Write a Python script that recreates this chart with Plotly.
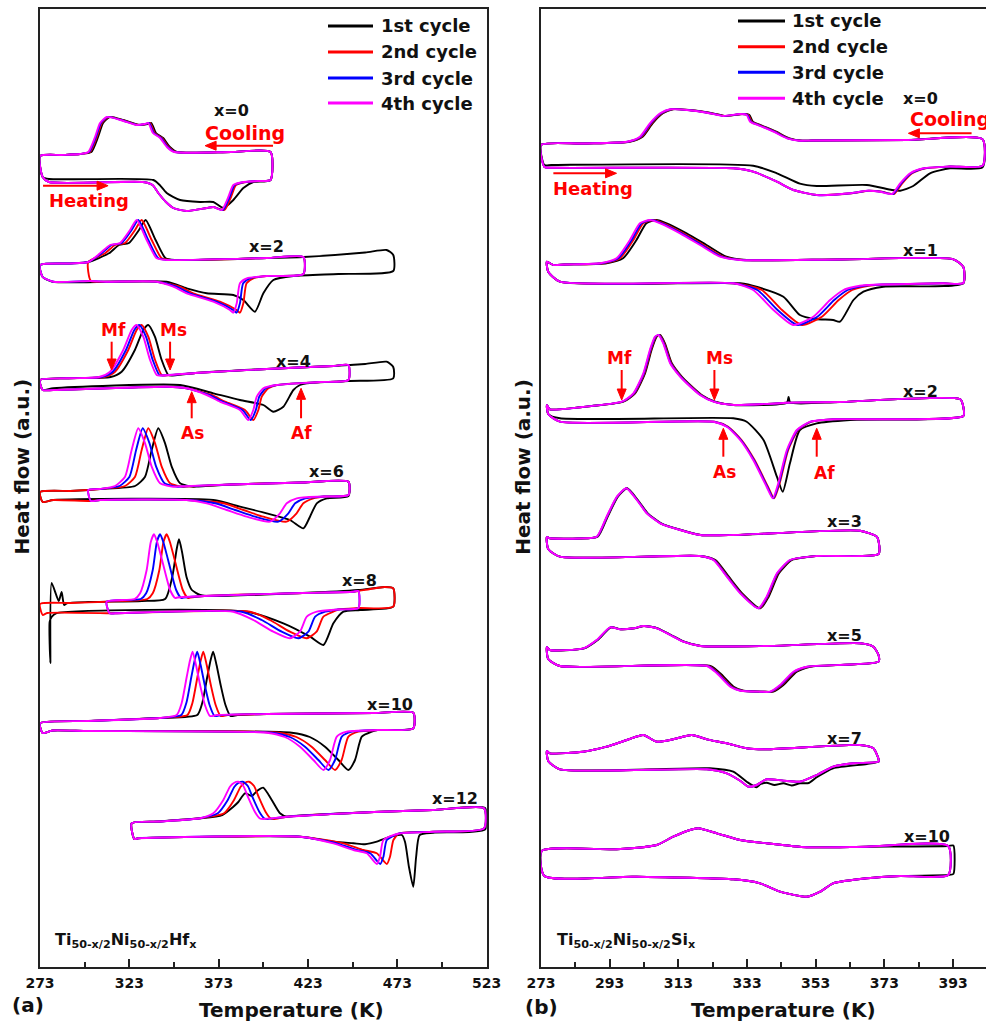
import plotly.graph_objects as go

# ---------------- DATA ----------------
CYCLE_NAMES = ["1st cycle", "2nd cycle", "3rd cycle", "4th cycle"]
CYCLE_COLORS = ["#000000", "#FF0000", "#0000FF", "#FF00FF"]

HF_X_RANGE = [273, 523]
SI_X_RANGE = [273, 402.6]
HF_TICK0, HF_DTICK, HF_MINOR = 273, 50, 25
SI_TICK0, SI_DTICK, SI_MINOR = 273, 20, 10
Y_RANGE = [0, 958]

# ---- Ti-Ni-Hf (panel a); heat flow in a.u. (stacked) ----
HF0_COOL_T = [402, 380, 348, 344, 340.2, 336.2, 333.6, 331.5, 327, 318, 310.3, 306.6, 303.8, 300, 295.4, 285, 273]
HF0_COOL_Y = [815, 815, 815, 820, 829, 834, 844, 843, 842, 847, 850, 844, 830, 815, 813, 812, 811]
HF0_HEAT_T = [274.5, 278, 330.6, 336, 339.2, 343.5, 347.6, 355.1, 366.3, 370, 374.7, 378.4, 381.2, 386.8, 395, 402]
HF0_HEAT_Y = [790, 785, 785, 782, 774, 765, 759, 756, 759, 760, 757, 770, 782, 785, 786, 787]
HF0_HEAT1_T = [274.5, 278, 336.4, 340, 343.9, 351.4, 362.6, 370, 375.6, 381.2, 386.8, 392.4, 402]
HF0_HEAT1_Y = [790, 788, 787, 782, 774, 767, 765, 765, 759, 767, 779, 785, 787]
HF0_COOL_WIN, HF0_COOL_SHIFT = (297, 349), [1.7, 1.0, 0.5, 0]
HF0_HEAT_WIN, HF0_HEAT_SHIFT = (372, 392), [0, 1.5, 0.7, 0]
HF0_TMIN, HF0_TMAX = [273, 273, 273, 273], [402, 402, 402, 402]

HF2_COOL_T = [470.7, 467, 455, 420.4, 400, 344, 338.3, 332.7, 327.1, 323.4, 317.8, 312.2, 306.6, 300, 290, 273]
HF2_COOL_Y = [712, 717, 714.5, 710, 709, 707, 708.7, 727, 747, 737, 724, 722, 713.7, 705, 703.5, 702]
HF2_HEAT_T = [274.5, 280.4, 301.5, 310, 338.3, 347.6, 355.1, 370, 379.3, 381.2, 383.1, 384.9, 388.7, 399.9, 420.4, 440, 470.7]
HF2_HEAT_Y = [690, 685.3, 686, 685.3, 685.3, 680.3, 673.7, 665.3, 657, 654.3, 663.7, 683.7, 688.7, 691, 693, 694, 695]
HF2_HEAT1_T = [274.5, 280, 343.9, 355.1, 366.3, 381.2, 386.8, 393.3, 398, 403.6, 415, 440, 470.7]
HF2_HEAT1_Y = [690, 685.3, 685.3, 678.7, 673.7, 672, 667, 655.3, 673.7, 687, 691, 693, 696]
HF2_COOL_WIN, HF2_COOL_SHIFT = (303, 345), [5, 2.8, 0.9, 0]
HF2_HEAT_WIN, HF2_HEAT_SHIFT = (340, 392), [0, 3.7, 1.8, 0]
HF2_TMIN, HF2_TMAX = [273, 300, 273, 273], [470.7, 420.4, 420.4, 420.4]

HF4_COOL_T = [470.7, 467, 455, 445.6, 437.2, 400, 360, 340, 338.3, 334.6, 330.8, 327.1, 324.3, 319.6, 312.2, 306, 288, 273]
HF4_COOL_Y = [600, 605.3, 603, 602, 601, 598, 594, 591.5, 592, 607, 630.3, 642, 637, 617, 595.3, 590, 588.7, 587]
HF4_HEAT_T = [274.5, 280.4, 343.9, 355.1, 366.3, 373.7, 384.9, 389.6, 392.4, 394.3, 398, 405.5, 430, 445.6, 470.7]
HF4_HEAT_Y = [577, 577, 580.3, 578.7, 572, 565.3, 557, 547, 557, 570.3, 578.7, 582, 585, 587, 588.7]
HF4_HEAT1_T = [274.5, 280.4, 351.4, 370, 384.9, 398, 403.6, 409.2, 414.8, 418.5, 422.3, 445.6, 470.7]
HF4_HEAT1_Y = [577, 578.7, 582, 573.7, 567, 562, 555.3, 560.3, 577, 582, 583.7, 586, 588.7]
HF4_COOL_WIN, HF4_COOL_SHIFT = (305, 341), [6.5, 2.8, 1.5, 0]
HF4_HEAT_WIN, HF4_HEAT_SHIFT = (360, 400), [0, 2.8, 1.4, 0]
HF4_TMIN, HF4_TMAX = [273, 273, 273, 273], [470.7, 445.6, 445.6, 445.6]

HF6_COOL_T = [445.6, 420, 380, 350, 347.6, 340.2, 335.5, 331.8, 328, 324.3, 320.6, 315, 306.6, 300, 290, 273]
HF6_COOL_Y = [485.3, 484.5, 482.5, 480.5, 480.3, 483.7, 500.3, 523.7, 538.7, 517, 490.3, 481, 478, 477, 476, 475]
HF6_HEAT_T = [274.5, 280.4, 301.5, 306.6, 355.1, 366.3, 377.5, 388.7, 401.7, 407.3, 411.1, 416.7, 432, 445.6]
HF6_HEAT_Y = [465, 467, 466, 467, 467, 463.7, 457, 450.3, 445.3, 453.7, 463.7, 468.7, 470.5, 472]
HF6_HEAT1_T = [274.5, 280.4, 370, 384.9, 399.9, 412.9, 420.4, 424.1, 427.9, 433.5, 445.6]
HF6_HEAT1_Y = [465, 467, 467, 460.3, 453.7, 447, 438.7, 450.3, 463.7, 468.7, 471]
HF6_COOL_WIN, HF6_COOL_SHIFT = (312, 351), [11.2, 5.6, 2.5, 0]
HF6_HEAT_WIN, HF6_HEAT_SHIFT = (360, 418), [0, 9.3, 4.7, 0]
HF6_TMIN, HF6_TMAX = [273, 273, 300, 300], [445.6, 445.6, 445.6, 445.6]

HF8_COOL_T = [470.7, 466, 451.2, 448.4, 420, 365, 350, 348.6, 345.8, 341.3, 338.6, 336.8, 335, 332.7, 329, 326, 310.3, 290, 273]
HF8_COOL_Y = [378.7, 380, 376, 375.3, 374, 371, 369.5, 369, 377, 407, 425, 432.7, 425, 397, 373.7, 368, 365.3, 364, 363]
HF8_HEAT_T = [274.5, 277, 312, 315, 381.2, 392.4, 403.6, 412.9, 418.5, 422.3, 427.9, 440, 451.2, 470.7]
HF8_HEAT_Y = [352, 354, 353.7, 353.7, 355.3, 347, 335.3, 328.7, 335.3, 350.3, 355.3, 357.5, 359, 360.3]
HF8_COOL1_T = [470.7, 466, 451.2, 420, 366, 362.6, 358, 355, 352.5, 350.8, 349.5, 347, 343, 330, 300, 288, 286.5, 285.1, 283.5, 279.5, 278.8, 278.4]
HF8_COOL1_Y = [378.7, 380, 377, 374, 371, 372, 377, 390, 415, 427.7, 418, 390, 368, 366, 365, 363.7, 362, 375, 366, 384, 304, 345]
HF8_HEAT1_T = [279.5, 282, 388.7, 409.2, 424.1, 431.6, 437.2, 442.8, 452.1, 470.7]
HF8_HEAT1_Y = [350, 353.7, 355.3, 343.7, 330.3, 322, 343.7, 355.3, 357, 360.3]
HF8_COOL_WIN, HF8_COOL_SHIFT = (325, 352), [0, 7.1, 3.4, 0]
HF8_HEAT_WIN, HF8_HEAT_SHIFT = (375, 430), [0, 9.3, 4.7, 0]
HF8_TMIN, HF8_TMAX = [278, 273, 310.3, 310.3], [470.7, 470.7, 451.2, 451.2]

HF10_COOL_T = [481.9, 460, 400, 372, 368.1, 365.3, 362.6, 360.3, 358.4, 357, 355.1, 352.3, 349.5, 340, 300, 273]
HF10_COOL_Y = [254.3, 254, 253, 252, 251, 262, 282, 302, 315.3, 307, 290, 264, 252, 249, 246, 243.7]
HF10_HEAT_T = [274.5, 280, 300, 399.9, 410, 418.5, 426, 431.6, 435.3, 439.1, 444.7, 462, 481.9]
HF10_HEAT_Y = [234, 236.5, 236, 234.3, 230, 220.3, 207, 197, 207, 230.3, 235.3, 237, 238.7]
HF10_COOL_WIN, HF10_COOL_SHIFT = (345, 373), [11.5, 6, 2.6, 0]
HF10_HEAT_WIN, HF10_HEAT_SHIFT = (395, 446), [14, 6.5, 2.8, 0]
HF10_TMIN, HF10_TMAX = [273, 273, 273, 273], [481.9, 481.9, 481.9, 481.9]

HF12_COOL_T = [521.5, 493, 460, 411.1, 398, 396.1, 393.3, 389.4, 386.8, 384, 381.5, 379.3, 375.6, 370, 362.6, 340, 324.3]
HF12_COOL_Y = [158.7, 157, 155, 150.3, 148, 148.5, 155, 170, 181, 185.3, 184, 180.3, 167, 153.7, 148.7, 145.5, 143.7]
HF12_HEAT_T = [325.8, 328, 418.5, 437.2, 448.4, 455.9, 461.5, 463.3, 465.2, 474, 493.1, 521.5]
HF12_HEAT_Y = [128, 128.7, 130.3, 123.7, 117, 113.7, 103, 110.3, 127, 133.5, 135.3, 138.7]
HF12_COOL1_T = [522.2, 493, 460, 415, 411.1, 407.3, 402.7, 397.9, 394.5, 391.5, 387.7, 384, 381.2, 375, 362.6, 340, 324.3]
HF12_COOL1_Y = [158.7, 157, 155, 151, 150.3, 153.7, 167, 179.3, 176, 171, 173.7, 165, 160.3, 152, 148.7, 145.5, 143.7]
HF12_HEAT1_T = [325.8, 328, 418.5, 437.2, 448.4, 454.9, 461.5, 468.9, 475.5, 477.3, 479.5, 481.9, 483.5, 485.5, 493.1, 522.2]
HF12_HEAT1_Y = [128, 128.7, 130.3, 125.3, 123.7, 122.7, 125.3, 130.3, 132, 125, 100, 80.3, 110, 132, 134.3, 137.7]
HF12_COOL_WIN, HF12_COOL_SHIFT = (365, 399), [0, 6, 2.5, 0]
HF12_HEAT_WIN, HF12_HEAT_SHIFT = (430, 468), [0, 5.6, 1.9, 0]
HF12_TMIN, HF12_TMAX = [324.3] * 4, [522.2, 521.5, 521.5, 521.5]

# ---- Ti-Ni-Si (panel b) ----
SI0_COOL_T = [401.6, 380, 352, 348.4, 344.6, 340.7, 336.8, 333.9, 332.9, 331, 326.1, 321.3, 315.4, 310.6, 307.7, 304.7, 301.8, 298, 285, 273]
SI0_COOL_Y = [827.7, 827, 826.5, 826.3, 828.7, 835.3, 841, 845.3, 852, 853, 851, 854.3, 857, 857.7, 853.7, 843.7, 830.3, 825.3, 823.5, 822]
SI0_HEAT_T = [274, 276, 329, 334.8, 341.7, 346.5, 353.3, 363, 367.9, 371.7, 375.2, 377.6, 380.5, 384.4, 392, 401.6]
SI0_HEAT_Y = [800, 799.3, 798.7, 795.3, 785.3, 777, 772, 773.7, 776.3, 775.3, 773, 783.7, 793.7, 798.7, 800.5, 801.3]
SI0_HEAT1_T = [274, 276, 334.8, 341.7, 348.4, 353.3, 367.9, 375.2, 377.6, 381.4, 386.3, 392.1, 401.6]
SI0_HEAT1_Y = [802, 802, 801.3, 793.7, 783.3, 781, 782, 777, 776.3, 781, 793.7, 798.7, 799.7]
SI0_COOL_WIN, SI0_COOL_SHIFT = (295, 350), [0.8, 0.5, 0.25, 0]
SI0_HEAT_WIN, SI0_HEAT_SHIFT = (360, 388), [0, 0.6, 0.3, 0]
SI0_TMIN, SI0_TMAX = [273] * 4, [401.6] * 4

SI1_COOL_T = [396, 393.1, 360, 331, 325.1, 319.3, 313.5, 307.7, 304.7, 301.8, 298.9, 295, 290.2, 280, 276.6, 274.7]
SI1_COOL_Y = [700, 707.7, 707.5, 707, 710.3, 722, 733.7, 743.7, 747, 743.7, 727, 708.7, 703.7, 702.5, 702, 705.3]
SI1_HEAT_T = [275.1, 278.5, 329, 334.8, 340.7, 346.5, 352.3, 357.2, 361.1, 364, 367.9, 390, 396]
SI1_HEAT_Y = [695.3, 685.3, 683.7, 677, 657, 642, 650.3, 667, 677, 680, 682, 683.7, 684]
SI1_HEAT1_T = [275.1, 278.5, 331, 336, 343.6, 348.4, 353, 358.1, 360.1, 364, 366.9, 372.7, 396]
SI1_HEAT1_Y = [695.3, 685.3, 683.7, 680, 670.3, 652, 648, 647, 645.3, 667, 675.3, 680.3, 683.7]
SI1_COOL_WIN, SI1_COOL_SHIFT = (286, 333), [1.9, 1.0, 0.5, 0]
SI1_HEAT_WIN, SI1_HEAT_SHIFT = (330, 370), [0, 2.5, 1.2, 0]
SI1_TMIN, SI1_TMAX = [274.7] * 4, [396] * 4

SI2_COOL_T = [396, 395.1, 360, 345.6, 345.1, 344.6, 329, 323.2, 319.3, 315.4, 313.5, 310.6, 308.6, 307.2, 306.2, 304.7, 302.8, 299.9, 296.5, 285, 275.6, 274.7]
SI2_COOL_Y = [560, 567.7, 565, 564.4, 564.3, 564.2, 562, 565.3, 572, 583.7, 590.3, 603.7, 623.7, 632, 630.3, 617, 593.7, 573.7, 565.3, 560, 557.7, 562]
SI2_COOL1_T = [396, 395.1, 360, 345.6, 345.1, 344.6, 329, 323.7, 319.8, 315.9, 314, 311.1, 309.1, 307.7, 306.7, 305.2, 303.3, 300.4, 297, 285, 275.6, 274.7]
SI2_COOL1_Y = [560, 567.7, 565, 564.4, 570, 564.2, 562, 565.3, 572, 583.7, 590.3, 603.7, 623.7, 632, 630.3, 617, 593.7, 573.7, 565.3, 560, 557.7, 562]
SI2_HEAT_T = [275.1, 278.5, 323.2, 327.1, 331, 334.8, 338.7, 340.5, 342.1, 344.6, 347.5, 351.4, 358.1, 396]
SI2_HEAT_Y = [553, 545.3, 545.3, 540.3, 527, 507, 480.3, 468.7, 483.7, 517, 537, 545.3, 547.7, 551]
SI2_HEAT1_T = [275.1, 278.5, 329, 332.9, 337.8, 341.7, 343.4, 345.5, 348.4, 353.3, 363, 396]
SI2_HEAT1_Y = [553, 548.7, 548.7, 545.3, 527, 490.3, 475.3, 503.7, 537, 543.7, 547, 551]
SI2_COOL_WIN, SI2_COOL_SHIFT = (290, 330), [0.5, 0.3, 0.15, 0]
SI2_HEAT_WIN, SI2_HEAT_SHIFT = (320, 356), [0, 0.4, 0.2, 0]
SI2_TMIN, SI2_TMAX = [274.7] * 4, [396] * 4

SI3_COOL_T = [371.3, 370.8, 365.9, 329, 319.3, 313.5, 307.7, 303.8, 300.9, 297.8, 295.1, 292.1, 289.2, 284, 275.6, 274.7]
SI3_COOL_Y = [426, 430.3, 436.3, 432, 432, 437, 443.7, 453.7, 467, 478.7, 470.3, 450.3, 430.3, 428.5, 428.7, 430]
SI3_HEAT_T = [275.1, 278.5, 319.3, 323.2, 327.1, 331, 336.3, 338.7, 341.7, 345.5, 353.3, 371.3]
SI3_HEAT_Y = [418, 410.3, 411, 407, 390.3, 373.7, 358.7, 370.3, 393.7, 407, 411, 413]
SI3_COOL_WIN, SI3_COOL_SHIFT = (285, 330), [0.3, 0.15, 0.1, 0]
SI3_HEAT_WIN, SI3_HEAT_SHIFT = (320, 350), [0.6, 0.3, 0.15, 0]
SI3_TMIN, SI3_TMAX = [274.7] * 4, [371.3] * 4

SI5_COOL_T = [371.3, 369.8, 365.9, 338.7, 319.3, 314.4, 310.6, 306.7, 302.8, 299.9, 296, 293.1, 289.2, 285.3, 275.6, 274.7]
SI5_COOL_Y = [312, 320.3, 323.7, 321, 321, 325.3, 332, 338.7, 341, 338.7, 337.7, 339.7, 327, 318.7, 317, 320]
SI5_HEAT_T = [275.1, 278.5, 321.3, 324.2, 328.1, 331, 336.8, 339.7, 342.6, 346.5, 350.4, 371.3]
SI5_HEAT_Y = [308, 301, 301, 293.7, 280.3, 276.3, 275.3, 275.3, 282, 295.3, 300.3, 305.3]
SI5_COOL_WIN, SI5_COOL_SHIFT = (283, 325), [0.3, 0.15, 0.1, 0]
SI5_HEAT_WIN, SI5_HEAT_SHIFT = (318, 352), [1.0, 0.5, 0.25, 0]
SI5_TMIN, SI5_TMAX = [274.7] * 4, [371.3] * 4

SI7_COOL_T = [371.3, 369.8, 365.9, 338.7, 332.9, 327.1, 321.3, 316.9, 311.5, 306.7, 302.8, 298, 292.1, 285.3, 275.6, 274.7]
SI7_COOL_Y = [208, 218.7, 222, 217.7, 218.7, 223.7, 227.7, 232, 227.7, 225.3, 232, 227, 220.3, 215.3, 213.7, 216]
SI7_HEAT_T = [275.1, 278.5, 321.3, 327.1, 331, 333.4, 335.8, 338.7, 343.6, 348.4, 353.3, 358.1, 364, 371.3]
SI7_HEAT_Y = [206, 197.7, 197.7, 193.7, 186.3, 180.3, 182, 187.7, 186.3, 185.3, 192, 200.3, 203.7, 205.3]
SI7_HEAT1_T = [275.1, 278.5, 322.2, 329, 332.9, 335.8, 337, 338.7, 341, 343.6, 346, 348.4, 351, 353.3, 358.1, 367.9, 371.3]
SI7_HEAT1_Y = [206, 197.7, 198.7, 195.3, 185.3, 179.7, 183, 184.3, 182, 183.7, 181.5, 183.7, 184, 189.7, 198.7, 203, 205.3]
SI7_COOL_WIN, SI7_COOL_SHIFT = (0, 0), [0, 0, 0, 0]
SI7_HEAT_WIN, SI7_HEAT_SHIFT = (0, 0), [0, 0, 0, 0]
SI7_TMIN, SI7_TMAX = [274.7] * 4, [371.3] * 4

SI10_COOL_T = [393.1, 391.6, 367.9, 350.4, 338.7, 331, 324.2, 318.8, 316.4, 311.5, 306.7, 295, 273.2]
SI10_COOL_Y = [121.5, 121, 120.3, 119.7, 123.7, 127, 133.7, 138.7, 137, 130.3, 122, 117.7, 116]
SI10_HEAT_T = [274, 299.9, 329, 336.8, 342.6, 350.4, 354.3, 358.1, 367.9, 377.6, 391.6, 393.1]
SI10_HEAT_Y = [91, 90.3, 87.7, 83.7, 75.3, 70.3, 75.3, 83.7, 88.7, 91, 92, 93]
SI10_COOL_WIN, SI10_COOL_SHIFT = (0, 0), [0, 0, 0, 0]
SI10_HEAT_WIN, SI10_HEAT_SHIFT = (0, 0), [0, 0, 0, 0]
SI10_TMIN, SI10_TMAX = [273.2] * 4, [393.1, 391.6, 391.6, 391.6]

# composition labels (text, T, heat flow)
HF_LABELS = [("x=0", 379.9, 857), ("x=2", 399.9, 720.3), ("x=4", 414.8, 605.3), ("x=6", 433.1, 495.3),
             ("x=8", 451.7, 386.3), ("x=10", 468.9, 263), ("x=12", 505.3, 168.7)]
SI_LABELS = [("x=0", 383.6, 868.7), ("x=1", 383.6, 717), ("x=2", 383.6, 575.3), ("x=3", 361.5, 445.3),
             ("x=5", 361.5, 332), ("x=7", 361.5, 228.7), ("x=10", 385.3, 130.3)]

# ---------------- BUILD ----------------
def S(cool, heat, cwin, cs, hwin, hs, tmin, tmax, cool1=None, heat1=None):
    return dict(cool=cool, heat=heat, cwin=cwin, cs=cs, hwin=hwin, hs=hs,
                tmin=tmin, tmax=tmax, cool1=cool1, heat1=heat1)

HF_SAMPLES = [
    S((HF0_COOL_T, HF0_COOL_Y), (HF0_HEAT_T, HF0_HEAT_Y), HF0_COOL_WIN, HF0_COOL_SHIFT, HF0_HEAT_WIN, HF0_HEAT_SHIFT, HF0_TMIN, HF0_TMAX, heat1=(HF0_HEAT1_T, HF0_HEAT1_Y)),
    S((HF2_COOL_T, HF2_COOL_Y), (HF2_HEAT_T, HF2_HEAT_Y), HF2_COOL_WIN, HF2_COOL_SHIFT, HF2_HEAT_WIN, HF2_HEAT_SHIFT, HF2_TMIN, HF2_TMAX, heat1=(HF2_HEAT1_T, HF2_HEAT1_Y)),
    S((HF4_COOL_T, HF4_COOL_Y), (HF4_HEAT_T, HF4_HEAT_Y), HF4_COOL_WIN, HF4_COOL_SHIFT, HF4_HEAT_WIN, HF4_HEAT_SHIFT, HF4_TMIN, HF4_TMAX, heat1=(HF4_HEAT1_T, HF4_HEAT1_Y)),
    S((HF6_COOL_T, HF6_COOL_Y), (HF6_HEAT_T, HF6_HEAT_Y), HF6_COOL_WIN, HF6_COOL_SHIFT, HF6_HEAT_WIN, HF6_HEAT_SHIFT, HF6_TMIN, HF6_TMAX, heat1=(HF6_HEAT1_T, HF6_HEAT1_Y)),
    S((HF8_COOL_T, HF8_COOL_Y), (HF8_HEAT_T, HF8_HEAT_Y), HF8_COOL_WIN, HF8_COOL_SHIFT, HF8_HEAT_WIN, HF8_HEAT_SHIFT, HF8_TMIN, HF8_TMAX, cool1=(HF8_COOL1_T, HF8_COOL1_Y), heat1=(HF8_HEAT1_T, HF8_HEAT1_Y)),
    S((HF10_COOL_T, HF10_COOL_Y), (HF10_HEAT_T, HF10_HEAT_Y), HF10_COOL_WIN, HF10_COOL_SHIFT, HF10_HEAT_WIN, HF10_HEAT_SHIFT, HF10_TMIN, HF10_TMAX),
    S((HF12_COOL_T, HF12_COOL_Y), (HF12_HEAT_T, HF12_HEAT_Y), HF12_COOL_WIN, HF12_COOL_SHIFT, HF12_HEAT_WIN, HF12_HEAT_SHIFT, HF12_TMIN, HF12_TMAX, cool1=(HF12_COOL1_T, HF12_COOL1_Y), heat1=(HF12_HEAT1_T, HF12_HEAT1_Y)),
]
SI_SAMPLES = [
    S((SI0_COOL_T, SI0_COOL_Y), (SI0_HEAT_T, SI0_HEAT_Y), SI0_COOL_WIN, SI0_COOL_SHIFT, SI0_HEAT_WIN, SI0_HEAT_SHIFT, SI0_TMIN, SI0_TMAX, heat1=(SI0_HEAT1_T, SI0_HEAT1_Y)),
    S((SI1_COOL_T, SI1_COOL_Y), (SI1_HEAT_T, SI1_HEAT_Y), SI1_COOL_WIN, SI1_COOL_SHIFT, SI1_HEAT_WIN, SI1_HEAT_SHIFT, SI1_TMIN, SI1_TMAX, heat1=(SI1_HEAT1_T, SI1_HEAT1_Y)),
    S((SI2_COOL_T, SI2_COOL_Y), (SI2_HEAT_T, SI2_HEAT_Y), SI2_COOL_WIN, SI2_COOL_SHIFT, SI2_HEAT_WIN, SI2_HEAT_SHIFT, SI2_TMIN, SI2_TMAX, cool1=(SI2_COOL1_T, SI2_COOL1_Y), heat1=(SI2_HEAT1_T, SI2_HEAT1_Y)),
    S((SI3_COOL_T, SI3_COOL_Y), (SI3_HEAT_T, SI3_HEAT_Y), SI3_COOL_WIN, SI3_COOL_SHIFT, SI3_HEAT_WIN, SI3_HEAT_SHIFT, SI3_TMIN, SI3_TMAX),
    S((SI5_COOL_T, SI5_COOL_Y), (SI5_HEAT_T, SI5_HEAT_Y), SI5_COOL_WIN, SI5_COOL_SHIFT, SI5_HEAT_WIN, SI5_HEAT_SHIFT, SI5_TMIN, SI5_TMAX),
    S((SI7_COOL_T, SI7_COOL_Y), (SI7_HEAT_T, SI7_HEAT_Y), SI7_COOL_WIN, SI7_COOL_SHIFT, SI7_HEAT_WIN, SI7_HEAT_SHIFT, SI7_TMIN, SI7_TMAX, heat1=(SI7_HEAT1_T, SI7_HEAT1_Y)),
    S((SI10_COOL_T, SI10_COOL_Y), (SI10_HEAT_T, SI10_HEAT_Y), SI10_COOL_WIN, SI10_COOL_SHIFT, SI10_HEAT_WIN, SI10_HEAT_SHIFT, SI10_TMIN, SI10_TMAX),
]


def shift_branch(branch, win, s):
    T, Y = branch
    return [t + s if win[0] <= t <= win[1] else t for t in T], list(Y)


def cycle_loop(sm, c):
    cool = sm["cool1"] if (c == 0 and sm["cool1"]) else shift_branch(sm["cool"], sm["cwin"], sm["cs"][c])
    heat = sm["heat1"] if (c == 0 and sm["heat1"]) else shift_branch(sm["heat"], sm["hwin"], sm["hs"][c])
    tmin, tmax = sm["tmin"][c], sm["tmax"][c]
    cp = [(t, y) for t, y in zip(*cool) if tmin <= t <= tmax]
    hp = [(t, y) for t, y in zip(*heat) if tmin < t <= tmax]
    pts = cp + hp + [cp[0]]
    return [p[0] for p in pts], [p[1] for p in pts]


fig = go.Figure()
for c in range(4):
    for samples, xa, ya in ((HF_SAMPLES, "x", "y"), (SI_SAMPLES, "x2", "y2")):
        for sm in samples:
            xs, ys = cycle_loop(sm, c)
            fig.add_trace(go.Scatter(
                x=xs, y=ys, mode="lines", xaxis=xa, yaxis=ya,
                line=dict(color=CYCLE_COLORS[c], width=1.9, shape="spline", smoothing=0.6),
                showlegend=False, hoverinfo="skip"))

W, H = 986, 1023
FONT = "DejaVu Sans"
LINE_C = "#222222"
# plot-area geometry (pixels)
HF_L, HF_R = 40, 486.7
SI_L, SI_R = 541, 986
PLOT_T, PLOT_B = 9, 967
KX_HF = (HF_R - HF_L) / (HF_X_RANGE[1] - HF_X_RANGE[0])
KX_SI = (SI_R - SI_L) / (SI_X_RANGE[1] - SI_X_RANGE[0])
KY = (PLOT_B - PLOT_T) / (Y_RANGE[1] - Y_RANGE[0])


def PX(x):
    return x / W


def PY(y):
    return 1 - y / H


axis_common = dict(showline=True, linecolor=LINE_C, linewidth=1.5, showgrid=False, zeroline=False,
                   automargin=False, ticks="inside", ticklen=8, tickwidth=1.5, tickcolor=LINE_C,
                   ticklabelstandoff=2,
                   tickfont=dict(family=FONT, size=14, color="#111", weight="bold"))
yaxis_common = dict(showline=True, linecolor=LINE_C, linewidth=1.5, showgrid=False, zeroline=False,
                    automargin=False, showticklabels=False, ticks="", range=Y_RANGE,
                    domain=[PY(PLOT_B), PY(PLOT_T)])

fig.update_layout(
    width=W, height=H, margin=dict(l=0, r=0, t=0, b=0, pad=0, autoexpand=False),
    paper_bgcolor="white", plot_bgcolor="white", showlegend=False,
    xaxis=dict(axis_common, domain=[PX(HF_L), PX(HF_R)], range=HF_X_RANGE, mirror=True, anchor="y",
               tick0=HF_TICK0, dtick=HF_DTICK,
               minor=dict(tick0=HF_TICK0, dtick=HF_MINOR, ticks="inside", ticklen=5, tickwidth=1.5, tickcolor=LINE_C)),
    yaxis=dict(yaxis_common, mirror=True, anchor="x"),
    xaxis2=dict(axis_common, domain=[PX(SI_L), PX(SI_R)], range=SI_X_RANGE, mirror=True, anchor="y2",
                tick0=SI_TICK0, dtick=SI_DTICK,
                minor=dict(tick0=SI_TICK0, dtick=SI_MINOR, ticks="inside", ticklen=5, tickwidth=1.5, tickcolor=LINE_C)),
    yaxis2=dict(yaxis_common, mirror=False, anchor="x2"),
)

ann = []
shapes = []
RED = "#FF0000"


def txt(text, x, y, xref="paper", yref="paper", size=16, color="#111", xanchor="center", angle=0):
    ann.append(dict(text=text, x=x, y=y, xref=xref, yref=yref, showarrow=False, xanchor=xanchor,
                    yanchor="middle", textangle=angle,
                    font=dict(family=FONT, size=size, color=color, weight="bold")))


def arrow(xh, yh, xt, yt, xref, yref, head_len=11, head_half=4.5):
    kx = KX_HF if xref == "x" else KX_SI
    dxp, dyp = (xh - xt) * kx, (yh - yt) * KY
    n = (dxp ** 2 + dyp ** 2) ** 0.5
    ux, uy = dxp / n, dyp / n
    bx, by = xh - ux * head_len / kx, yh - uy * head_len / KY
    shapes.append(dict(type="line", xref=xref, yref=yref, x0=xt, y0=yt, x1=bx, y1=by,
                       line=dict(color=RED, width=2)))
    p1 = (bx - uy * head_half / kx, by + ux * head_half / KY)
    p2 = (bx + uy * head_half / kx, by - ux * head_half / KY)
    shapes.append(dict(type="path", xref=xref, yref=yref,
                       path=f"M {xh},{yh} L {p1[0]},{p1[1]} L {p2[0]},{p2[1]} Z",
                       fillcolor=RED, line=dict(color=RED, width=1)))


# legends
for i, (name, col) in enumerate(zip(CYCLE_NAMES, CYCLE_COLORS)):
    for (x0, x1, xt, ys) in ((328, 373, 379, [26, 52, 78, 103]), (738, 785, 790, [21, 46.7, 72.3, 98.3])):
        shapes.append(dict(type="line", xref="paper", yref="paper", x0=PX(x0), x1=PX(x1), y0=PY(ys[i]), y1=PY(ys[i]),
                           line=dict(color=col, width=3)))
        txt(name, PX(xt), PY(ys[i]), size=18, xanchor="left")

# composition labels
for t, x, y in HF_LABELS:
    txt(t, x, y, "x", "y", size=16)
for t, x, y in SI_LABELS:
    txt(t, x, y, "x2", "y2", size=16)

# panel a annotations
txt("Cooling", 387.7, 834, "x", "y", size=19, color=RED)
arrow(365.4, 821.3, 403.4, 821.3, "x", "y")
txt("Heating", 300.4, 767, "x", "y", size=18, color=RED)
arrow(311.1, 781.3, 274.7, 781.3, "x", "y")
txt("Mf", 314, 637, "x", "y", size=17, color=RED)
arrow(313.1, 597, 313.1, 625.3, "x", "y")
txt("Ms", 347.6, 637, "x", "y", size=17, color=RED)
arrow(345.8, 597, 345.8, 625.3, "x", "y")
txt("As", 358.5, 533.7, "x", "y", size=17, color=RED)
arrow(357.9, 575.3, 357.9, 548.7, "x", "y")
txt("Af", 419.5, 533.7, "x", "y", size=17, color=RED)
arrow(419.1, 578.7, 419.1, 548.7, "x", "y")

# panel b annotations
txt("Cooling", 380, 848, "x2", "y2", size=19, color=RED, xanchor="left")
arrow(380, 833.7, 398.4, 833.7, "x2", "y2")
txt("Heating", 288.1, 778.7, "x2", "y2", size=18, color=RED)
arrow(295, 793.7, 276.6, 793.7, "x2", "y2")
txt("Mf", 295.8, 608.7, "x2", "y2", size=17, color=RED)
arrow(296.5, 567, 296.5, 597, "x2", "y2")
txt("Ms", 325.1, 608.7, "x2", "y2", size=17, color=RED)
arrow(323.5, 567, 323.5, 597, "x2", "y2")
txt("As", 326.3, 495.3, "x2", "y2", size=17, color=RED)
arrow(326.1, 538.7, 326.1, 510.3, "x2", "y2")
txt("Af", 355.7, 493.7, "x2", "y2", size=17, color=RED)
arrow(353.3, 538.7, 353.3, 510.3, "x2", "y2")

# formulas
txt("Ti<sub>50-x/2</sub>Ni<sub>50-x/2</sub>Hf<sub>x</sub>", PX(53), PY(940), size=16, xanchor="left")
txt("Ti<sub>50-x/2</sub>Ni<sub>50-x/2</sub>Si<sub>x</sub>", PX(555), PY(940), size=16, xanchor="left")

# axis titles and panel letters
txt("Temperature (K)", PX(291.7), PY(1010), size=20)
txt("Temperature (K)", PX(783.3), PY(1010), size=20)
txt("Heat flow (a.u.)", PX(21.7), PY(466.7), size=20, angle=-90)
txt("Heat flow (a.u.)", PX(523), PY(466.7), size=20, angle=-90)
txt("(a)", PX(27.5), PY(1005), size=20)
txt("(b)", PX(541), PY(1006.7), size=20)

fig.update_layout(annotations=ann, shapes=shapes)
fig.write_html("out.html")
